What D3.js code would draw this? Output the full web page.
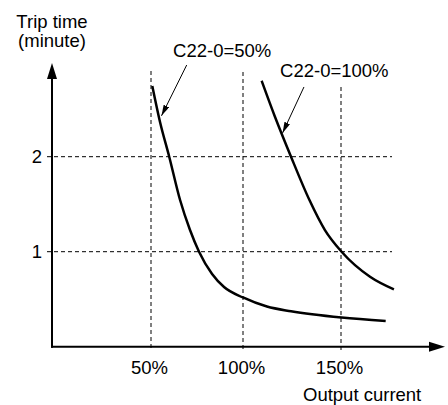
<!DOCTYPE html>
<html>
<head>
<meta charset="utf-8">
<script src="https://cdn.jsdelivr.net/npm/d3@7"></script>
<style>
  body { margin: 0; background: #fff; }
  svg { display: block; font-family: "Liberation Sans", Arial, sans-serif; }
  text { fill: #000; }
</style>
</head>
<body>
<div id="chart"></div>
<script>
// x in % of output current, y in minutes
const xTicks = [50, 100, 150]
const yTicks = [1, 2]
const xTickLabels = ['50%', '100%', '150%']
const yTickLabels = ['1', '2']

const curve50 = [
  [50.7, 2.744], [54.9, 2.365], [59.9, 2.0], [65.8, 1.544], [71.2, 1.228],
  [76.1, 1.0], [83.2, 0.765], [89.7, 0.628], [100, 0.518], [112.2, 0.423],
  [124.5, 0.373], [150.3, 0.307], [172.8, 0.271],
]
const curve100 = [
  [109.5, 2.8], [116.3, 2.421], [124.5, 2.0], [133.9, 1.544], [141.8, 1.228],
  [150.3, 1.0], [164.8, 0.737], [177.0, 0.604],
]

// annotation: label position, leader start, leader tip (data units)
const notes = [
  { text: 'C22-0=50%', at: [62, 3.05], from: [69.4, 2.965], to: [55.7, 2.43] },
  { text: 'C22-0=100%', at: [118.9, 2.844], from: [131.1, 2.734], to: [120.2, 2.25] },
]

const W = 448, H = 405
const originX = 52, axisEndX = 445, axisTopY = 63
const vGridTop = [71, 72, 87] // where each vertical guide starts
const hGridEnd = 392

const svg = d3.select('#chart').append('svg')
  .attr('width', W).attr('height', H)

const x = d3.scaleLinear().domain(xTicks).range([151, 243, 341])
const y = d3.scaleLinear().domain([0, 2]).range([346.7, 156.7])
const y0 = y(0)

svg.append('defs').append('marker')
  .attr('id', 'lead')
  .attr('viewBox', '0 0 11 6')
  .attr('refX', 11).attr('refY', 3)
  .attr('markerWidth', 11).attr('markerHeight', 6)
  .attr('markerUnits', 'userSpaceOnUse')
  .attr('orient', 'auto')
  .append('path').attr('d', 'M0,0L11,3L0,6Z').attr('fill', '#000')

// dashed guides
svg.append('g').selectAll('line').data(xTicks).enter().append('line')
  .attr('x1', (d) => x(d)).attr('x2', (d) => x(d))
  .attr('y1', (d, i) => vGridTop[i]).attr('y2', y0 + 4)
  .attr('stroke', '#000').attr('stroke-width', 1)
  .attr('stroke-dasharray', '4,3')

svg.append('g').selectAll('line').data(yTicks).enter().append('line')
  .attr('x1', originX - 5).attr('x2', hGridEnd)
  .attr('y1', (d) => y(d)).attr('y2', (d) => y(d))
  .attr('stroke', '#000').attr('stroke-width', 1)
  .attr('stroke-dasharray', '4,3')

// tick labels
svg.append('g')
  .attr('transform', `translate(0,${y0})`)
  .call(d3.axisBottom(x).tickValues(xTicks).tickSize(0).tickPadding(14)
    .tickFormat((d, i) => xTickLabels[i]))
  .call((g) => g.select('.domain').remove())
  .selectAll('text')
  .attr('dx', -2)
  .style('font-size', '18.5px').style('font-family', null)

svg.append('g')
  .attr('transform', `translate(${originX},0)`)
  .call(d3.axisLeft(y).tickValues(yTicks).tickSize(0).tickPadding(10)
    .tickFormat((d, i) => yTickLabels[i]))
  .call((g) => g.select('.domain').remove())
  .selectAll('text')
  .style('font-size', '18.5px').style('font-family', null)

// axes with arrowheads
svg.append('line')
  .attr('x1', originX).attr('x2', originX)
  .attr('y1', y0 + 1).attr('y2', axisTopY + 14)
  .attr('stroke', '#000').attr('stroke-width', 2)
svg.append('path')
  .attr('d', `M${originX},${axisTopY}L${originX - 5},${axisTopY + 16}L${originX + 5},${axisTopY + 16}Z`)
  .attr('fill', '#000')

svg.append('line')
  .attr('x1', originX - 1).attr('x2', axisEndX - 14)
  .attr('y1', y0).attr('y2', y0)
  .attr('stroke', '#000').attr('stroke-width', 2)
svg.append('path')
  .attr('d', `M${axisEndX},${y0}L${axisEndX - 16},${y0 - 5}L${axisEndX - 16},${y0 + 5}Z`)
  .attr('fill', '#000')

// curves
const line = d3.line()
  .x((d) => x(d[0]))
  .y((d) => y(d[1]))
  .curve(d3.curveMonotoneX)

svg.selectAll('.curve').data([curve50, curve100]).enter().append('path')
  .attr('class', 'curve')
  .attr('d', line)
  .attr('fill', 'none')
  .attr('stroke', '#000')
  .attr('stroke-width', 2.5)

// labels and leaders
svg.selectAll('.note').data(notes).enter().append('text')
  .attr('class', 'note')
  .attr('x', (d) => x(d.at[0]))
  .attr('y', (d) => y(d.at[1]))
  .style('font-size', '18.5px')
  .text((d) => d.text)

svg.selectAll('.leader').data(notes).enter().append('line')
  .attr('class', 'leader')
  .attr('x1', (d) => x(d.from[0])).attr('y1', (d) => y(d.from[1]))
  .attr('x2', (d) => x(d.to[0])).attr('y2', (d) => y(d.to[1]))
  .attr('stroke', '#000').attr('stroke-width', 1)
  .attr('marker-end', 'url(#lead)')

// axis titles
svg.append('text').attr('x', originX).attr('y', 28)
  .attr('text-anchor', 'middle').style('font-size', '18.5px')
  .text('Trip time')
svg.append('text').attr('x', originX).attr('y', 47)
  .attr('text-anchor', 'middle').style('font-size', '18.5px')
  .text('(minute)')
svg.append('text').attr('x', 303).attr('y', 401)
  .style('font-size', '18.5px')
  .text('Output current')
</script>
</body>
</html>
